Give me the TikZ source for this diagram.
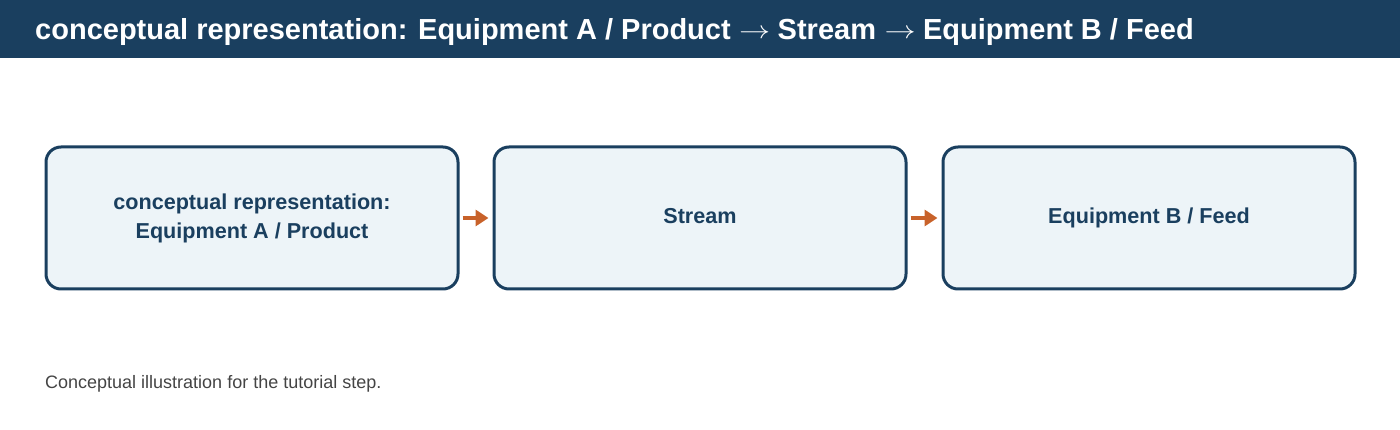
\documentclass[tikz,border=0pt]{standalone}
\usepackage{fontspec}
\setmainfont{Liberation Sans}
\usetikzlibrary{arrows.meta}
\definecolor{navy}{HTML}{1A3F5F}
\definecolor{boxfill}{HTML}{EDF4F8}
\definecolor{orangearr}{HTML}{C8622A}
\definecolor{capgray}{HTML}{444444}
\newcommand{\titlearrow}{\makebox[47pt]{\hspace{1pt}\raisebox{1.5pt}{\scalebox{1.25}[1]{$\mathbf{\rightarrow}$}}}}
\tikzset{
  procbox/.style={draw=navy, line width=3pt, fill=boxfill, rounded corners=15pt,
    minimum width=412pt, minimum height=142pt, inner sep=0pt,
    text=navy, font=\fontsize{21.6}{29}\selectfont\bfseries, align=center},
  flowarrow/.style={draw=orangearr, line width=4pt, -{Triangle[length=13pt,width=16pt]}, shorten >=4pt, shorten <=3pt}
}
\begin{document}
\begin{tikzpicture}[x=1pt,y=-1pt]
\useasboundingbox (0,0) rectangle (1400,430);
\fill[navy] (0,0) rectangle (1400,58);
\node[anchor=base west, text=white, font=\fontsize{29}{32}\selectfont\bfseries, inner sep=0pt] (title) at (35,40) {conceptual representation: Equipment A / Product\titlearrow Stream\titlearrow Equipment B / Feed};
\node[procbox] (a) at (252,218) {conceptual representation:\\Equipment A / Product};
\node[procbox] (b) at (700,218) {Stream\vphantom{pq}};
\node[procbox] (c) at (1149,218) {Equipment B / Feed};
\draw[flowarrow] (a.east) -- (b.west);
\draw[flowarrow] (b.east) -- (c.west);
\node[anchor=base west, text=capgray, font=\fontsize{18}{21}\selectfont, inner sep=0pt] (cap) at (45,388) {Conceptual illustration for the tutorial step.};
\end{tikzpicture}
\end{document}
